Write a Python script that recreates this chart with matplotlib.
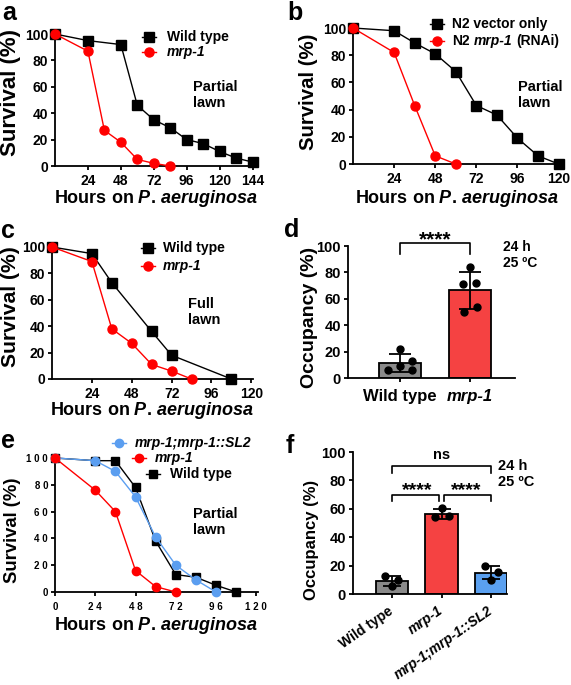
import numpy as np
import matplotlib.pyplot as plt
from matplotlib.lines import Line2D
from matplotlib.transforms import blended_transform_factory

plt.rcParams['font.family'] = ['Liberation Sans', 'DejaVu Sans']
plt.rcParams['font.weight'] = 'bold'
plt.rcParams['axes.labelweight'] = 'bold'
plt.rcParams['mathtext.fontset'] = 'custom'
plt.rcParams['mathtext.rm'] = 'Liberation Sans:bold'
plt.rcParams['mathtext.it'] = 'Liberation Sans:italic:bold'
plt.rcParams['mathtext.bf'] = 'Liberation Sans:bold'

# ---------------- data ----------------
# a: partial lawn
a_wt_h = [0, 24, 48, 60, 72, 84, 96, 108, 120, 132, 144]
a_wt_s = [100, 95, 92, 46, 35, 29, 20, 17, 11, 6, 3]
a_mrp_h = [0, 24, 36, 48, 60, 72, 84]
a_mrp_s = [100, 87, 27, 18, 5, 2, 0]

# b: RNAi, partial lawn
b_vec_h = [0, 24, 36, 48, 60, 72, 84, 96, 108, 120]
b_vec_s = [100, 98, 89, 81, 68, 43, 36, 19, 6, 0]
b_rnai_h = [0, 24, 36, 48, 60]
b_rnai_s = [100, 82, 43, 6, 0]

# c: full lawn
c_wt_h = [0, 24, 36, 60, 72, 108]
c_wt_s = [100, 95, 73, 36, 18, 0]
c_mrp_h = [0, 24, 36, 48, 60, 72, 84]
c_mrp_s = [100, 89, 38, 27, 11, 6, 0]

# d: occupancy, 24 h 25 C
d_groups = ['Wild type', 'mrp-1']
d_points = [[22, 6, 9, 13, 6], [84, 71.5, 72, 50, 54]]
d_jitter = [[0, -0.17, 0, 0.17, 0.17], [0, -0.1, 0.08, -0.09, 0.1]]

# e: rescue, partial lawn
e_sl2_h = [0, 24, 36, 48, 60, 72, 84, 96]
e_sl2_s = [100, 98, 90, 71, 41, 20, 9, 0]
e_mrp_h = [0, 24, 36, 48, 60, 72]
e_mrp_s = [100, 76, 60, 16, 4, 0]
e_wt_h = [0, 24, 36, 48, 60, 72, 84, 96, 108]
e_wt_s = [100, 98, 98, 78, 38, 13, 11, 5, 0]

# f: occupancy with rescue
f_groups = ['Wild type', 'mrp-1', 'mrp-1;mrp-1::SL2']
f_points = [[12.4, 10, 5.4], [60.3, 54.2, 54.7], [19.4, 15.4, 10]]
f_jitter = [[-0.15, 0.13, 0], [0, -0.14, 0.15], [-0.13, 0.15, 0]]

RED = '#ff0000'
BLUE = '#5b9ef0'
GRAY = '#8a8a8a'
BAR_RED = '#f54242'
BAR_BLUE = '#5aa0f0'

W, H = 571, 685
fig = plt.figure(figsize=(W / 100, H / 100), dpi=100)


def fy(y):
    return 1 - y / H


def add_ax(l, t, r, b):
    return fig.add_axes([l / W, 1 - b / H, (r - l) / W, (b - t) / H])


def style(ax, size=10):
    for s in ['top', 'right']:
        ax.spines[s].set_visible(False)
    for s in ['left', 'bottom']:
        ax.spines[s].set_linewidth(1.3)
    ax.tick_params(width=1.3, length=3, pad=2, labelsize=size)


def labels(ax, xlabel, xl_y, xsize, ylabel, yl_x, yl_y, ysize):
    if xlabel:
        ax.set_xlabel(xlabel, fontsize=xsize)
        ax.xaxis.label.set_va('center')
        ax.xaxis.set_label_coords(0.5, fy(xl_y),
                                  transform=blended_transform_factory(ax.transAxes, fig.transFigure))
    ax.set_ylabel(ylabel, fontsize=ysize)
    ax.yaxis.label.set_va('center')
    ax.yaxis.set_label_coords(yl_x / W, fy(yl_y), transform=fig.transFigure)


def rich(ax, x, y, pieces, size=10):
    # pieces of text with own style, drawn one after another
    t = fig.text(x / W, fy(y), pieces[0][0], style=pieces[0][1], fontsize=size,
                 ha='left', va='center')
    for txt, st in pieces[1:]:
        t = ax.annotate(txt, xy=(1, 0.5), xycoords=t, xytext=(2.8, 0),
                        textcoords='offset points', ha='left', va='center',
                        style=st, fontsize=size, annotation_clip=False)


def key(ax, x, y, color, marker, pieces, tx, ms=6.5):
    fig.add_artist(Line2D([(x - 7) / W, (x + 7) / W], [fy(y), fy(y)], color=color, lw=1))
    fig.add_artist(Line2D([x / W], [fy(y)], color=color, marker=marker, ms=ms, ls='none'))
    rich(ax, tx, y, pieces)


XLAB = r'Hours on $\mathit{P.}\,\mathit{aeruginosa}$'


def survival(ax, curves, xmax, xticks, ms=6.5):
    for h, s, color, marker in curves:
        ax.plot(h, s, color=color, marker=marker, ms=ms, lw=1, clip_on=False, zorder=3)
    style(ax)
    ax.set_xlim(0, xmax)
    ax.set_ylim(0, 100)
    ax.set_yticks(range(0, 101, 20))
    ax.set_xticks(xticks)
    ax.tick_params(axis='x', pad=2.5)


# ---------------- a ----------------
ax_a = add_ax(55, 34, 258, 166)
survival(ax_a, [(a_wt_h, a_wt_s, 'black', 's'), (a_mrp_h, a_mrp_s, RED, 'o')],
         148, range(24, 145, 24))
labels(ax_a, XLAB, 199, 13, 'Survival (%)', 11, 92, 16)
key(ax_a, 149, 37, 'black', 's', [('Wild type', 'normal')], 167)
key(ax_a, 149, 52, RED, 'o', [('mrp-1', 'italic')], 167)
fig.text(193 / W, fy(80), 'Partial\nlawn', fontsize=10.5, ha='left', va='top')

# ---------------- b ----------------
ax_b = add_ax(353, 28, 562, 164)
survival(ax_b, [(b_vec_h, b_vec_s, 'black', 's'), (b_rnai_h, b_rnai_s, RED, 'o')],
         122, range(24, 121, 24))
labels(ax_b, XLAB, 199, 13, 'Survival (%)', 309, 92, 14.7)
key(ax_b, 437, 24, 'black', 's', [('N2 vector only', 'normal')], 452)
key(ax_b, 437, 41, RED, 'o', [('N2', 'normal'), ('mrp-1', 'italic'), ('(RNAi)', 'normal')], 452)
fig.text(518 / W, fy(80), 'Partial\nlawn', fontsize=10.5, ha='left', va='top')

# ---------------- c ----------------
ax_c = add_ax(52, 247, 253, 379)
survival(ax_c, [(c_wt_h, c_wt_s, 'black', 's'), (c_mrp_h, c_mrp_s, RED, 'o')],
         121, range(24, 121, 24))
labels(ax_c, XLAB, 410, 13, 'Survival (%)', 11, 307, 15.2)
key(ax_c, 148, 248, 'black', 's', [('Wild type', 'normal')], 163)
key(ax_c, 148, 266, RED, 'o', [('mrp-1', 'italic')], 163)
fig.text(188 / W, fy(297), 'Full\nlawn', fontsize=10.5, ha='left', va='top')

# ---------------- e ----------------
ax_e = add_ax(55, 458, 258, 592)
survival(ax_e, [(e_wt_h, e_wt_s, 'black', 's'), (e_sl2_h, e_sl2_s, BLUE, 'o'),
                (e_mrp_h, e_mrp_s, RED, 'o')], 121, range(0, 121, 24), ms=6)
ax_e.set_xticklabels([' '.join(str(v)) for v in range(0, 121, 24)], fontsize=7)
ax_e.set_yticklabels([' '.join(str(v)) for v in range(0, 101, 20)], fontsize=7)
ax_e.tick_params(axis='x', pad=4)
labels(ax_e, XLAB, 626, 13, 'Survival (%)', 13, 530, 13.3)
key(ax_e, 119, 443, BLUE, 'o', [('mrp-1;mrp-1::SL2', 'italic')], 135, ms=6)
key(ax_e, 139, 458, RED, 'o', [('mrp-1', 'italic')], 155, ms=6)
key(ax_e, 153, 474, 'black', 's', [('Wild type', 'normal')], 170, ms=6)
fig.text(193 / W, fy(507), 'Partial\nlawn', fontsize=10.5, ha='left', va='top')


# ---------------- bar panels ----------------
def bars(ax, groups, points, jitter, colors, width, cap):
    x = np.arange(len(groups))
    means = [np.mean(p) for p in points]
    sds = [np.std(p, ddof=1) for p in points]
    ax.bar(x, means, width=width, color=colors, edgecolor='black', lw=1.3, zorder=2)
    ax.errorbar(x, means, yerr=sds, fmt='none', ecolor='black', elinewidth=1.3,
                capsize=cap, capthick=1.3, zorder=3)
    for i, (p, j) in enumerate(zip(points, jitter)):
        ax.plot(i + np.array(j), p, 'o', color='black', ms=5, zorder=4, clip_on=False)
    style(ax, 10.5)
    ax.set_ylim(0, 100)
    ax.set_yticks(range(0, 101, 20))
    ax.set_xticks(x)
    ax.set_xticklabels(groups)
    for lab in ax.get_xticklabels():
        if lab.get_text().startswith('mrp'):
            lab.set_style('italic')


def bracket(ax, x0, x1, y, drop):
    ax.plot([x0, x0, x1, x1], [y - drop, y, y, y - drop], color='black', lw=1.2,
            clip_on=False)


# d
ax_d = add_ax(348, 246, 515, 378)
bars(ax_d, d_groups, d_points, d_jitter, [GRAY, BAR_RED], 0.6, 8)
ax_d.set_xlim(-0.743, 1.643)
ax_d.tick_params(axis='x', labelsize=12, pad=5)
labels(ax_d, None, None, None, 'Occupancy (%)', 309, 317, 14)
bracket(ax_d, 0, 1, 102, 8)
ax_d.text(0.5, 105, '****', ha='center', va='center', fontsize=15, clip_on=False)
fig.text(503 / W, fy(240), '24 h\n25 \u00baC', fontsize=10, ha='left', va='top',
         linespacing=1.15)

# f
ax_f = add_ax(353, 452, 507, 594)
bars(ax_f, f_groups, f_points, f_jitter, [GRAY, BAR_RED, BAR_BLUE], 0.65, 6.5)
ax_f.set_xlim(-0.788, 2.323)
for lab in ax_f.get_xticklabels():
    lab.set_rotation(35)
    lab.set_ha('right')
    lab.set_va('center')
    lab.set_rotation_mode('anchor')
    lab.set_fontsize(10)
ax_f.tick_params(axis='x', pad=8)
labels(ax_f, None, None, None, 'Occupancy (%)', 312, 540, 12)
bracket(ax_f, 0, 2, 90, 4.5)
bracket(ax_f, 0, 0.94, 70, 4.5)
bracket(ax_f, 1.06, 2, 70, 4.5)
ax_f.text(1, 98, 'ns', ha='center', va='center', fontsize=10.5, clip_on=False)
ax_f.text(0.5, 72.5, '****', ha='center', va='center', fontsize=14, clip_on=False)
ax_f.text(1.5, 72.5, '****', ha='center', va='center', fontsize=14, clip_on=False)
fig.text(498 / W, fy(459), '24 h\n25 \u00baC', fontsize=10.5, ha='left', va='top',
         linespacing=1.15)

# panel letters
for letter, x, y in [('a', 2, 20), ('b', 287, 20), ('c', 1, 238),
                     ('d', 284, 237), ('e', 1, 448), ('f', 286, 453)]:
    fig.text(x / W, fy(y), letter, fontsize=18, fontweight='bold', ha='left', va='baseline')

fig.savefig('out.png', dpi=100)
